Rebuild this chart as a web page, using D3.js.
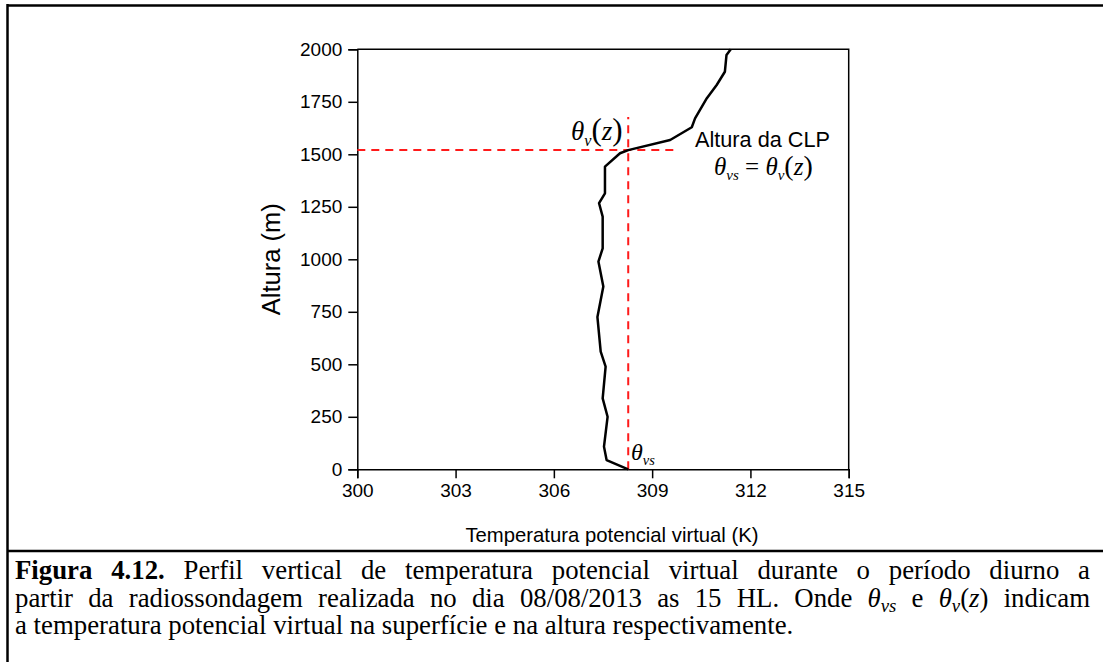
<!DOCTYPE html>
<html>
<head>
<meta charset="utf-8">
<script src="https://cdn.jsdelivr.net/npm/d3@7"></script>
<style>
  body { margin: 0; background: #fff; }
  svg { display: block; }
</style>
</head>
<body>
<div id="chart"></div>
<script>
// profile (temperature K, height m)
var theta = [308.27, 307.61, 307.53, 307.64, 307.49, 307.58, 307.43, 307.33, 307.51, 307.36,
             307.49, 307.49, 307.38, 307.56, 307.56, 308.02, 308.27, 309.55, 310.21, 310.31,
             310.67, 310.97, 311.22, 311.27, 311.40];
var height = [0, 44, 108, 250, 338, 489, 560, 725, 870, 989,
              1052, 1203, 1267, 1314, 1441, 1505, 1520, 1568, 1629, 1671,
              1767, 1830, 1893, 1973, 2000];
var xTicks = [300, 303, 306, 309, 312, 315];
var yTicks = [0, 250, 500, 750, 1000, 1250, 1500, 1750, 2000];
var thetaSurface = 308.27;   // theta_vs
var clpHeight = 1520;        // boundary layer top

var W = 1103, H = 662;
var sans = "'Liberation Sans', Arial, sans-serif";
var serif = "'Liberation Serif', 'Times New Roman', serif";

var svg = d3.select("#chart").append("svg")
    .attr("width", W)
    .attr("height", H);

// figure box
svg.append("line").attr("x1", 7).attr("x2", W).attr("y1", 5.5).attr("y2", 5.5)
    .attr("stroke", "#000").attr("stroke-width", 2.5);
svg.append("line").attr("x1", 7.5).attr("x2", 7.5).attr("y1", 4).attr("y2", H)
    .attr("stroke", "#000").attr("stroke-width", 2.5);
svg.append("line").attr("x1", 7).attr("x2", W).attr("y1", 551).attr("y2", 551)
    .attr("stroke", "#000").attr("stroke-width", 2.5);

var x = d3.scaleLinear().domain([300, 315]).range([357.3, 848.7]);
var y = d3.scaleLinear().domain([0, 2000]).range([469.3, 49.3]);

// frame (top + right)
svg.append("path")
    .attr("d", "M" + x(300) + "," + y(2000) + "H" + x(315) + "V" + y(0))
    .attr("fill", "none").attr("stroke", "#000").attr("stroke-width", 1.5);

var xAxis = svg.append("g")
    .attr("transform", "translate(0," + y(0) + ")")
    .call(d3.axisBottom(x).tickValues(xTicks).tickSize(9).tickPadding(5).tickFormat(d3.format("d")));
var yAxis = svg.append("g")
    .attr("transform", "translate(" + x(300) + ",0)")
    .call(d3.axisLeft(y).tickValues(yTicks).tickSize(9).tickPadding(6).tickFormat(d3.format("d")));

[xAxis, yAxis].forEach(function (g) {
    g.select(".domain").attr("stroke-width", 1.5);
    g.selectAll(".tick line").attr("stroke-width", 1.5);
    g.selectAll(".tick text")
        .style("font-family", sans)
        .style("font-size", "19px")
        .attr("fill", "#000");
});

// axis titles
svg.append("text")
    .attr("x", 612)
    .attr("y", 542)
    .attr("text-anchor", "middle")
    .style("font-family", sans)
    .style("font-size", "20.3px")
    .text("Temperatura potencial virtual (K)");

svg.append("text")
    .attr("transform", "translate(280," + (y(0) + y(2000)) / 2 + ") rotate(-90)")
    .attr("text-anchor", "middle")
    .style("font-family", sans)
    .style("font-size", "25.5px")
    .text("Altura (m)");

// red reference lines
svg.append("line")
    .attr("x1", x(300)).attr("x2", 677)
    .attr("y1", y(clpHeight)).attr("y2", y(clpHeight))
    .attr("stroke", "#ff1a1a").attr("stroke-width", 2)
    .attr("stroke-dasharray", "8,6");
svg.append("line")
    .attr("x1", x(thetaSurface)).attr("x2", x(thetaSurface))
    .attr("y1", y(0)).attr("y2", 117)
    .attr("stroke", "#ff1a1a").attr("stroke-width", 2)
    .attr("stroke-dasharray", "8,6");

// profile
var profile = theta.map(function (t, i) { return [t, height[i]]; });
var line = d3.line()
    .x(function (d) { return x(d[0]); })
    .y(function (d) { return y(d[1]); });
svg.append("path")
    .attr("d", line(profile))
    .attr("fill", "none")
    .attr("stroke", "#000")
    .attr("stroke-width", 2.5)
    .attr("stroke-linejoin", "round");

// annotations
function thetaLabel(px, py, size, sub, tail) {
    var t = svg.append("text")
        .attr("x", px).attr("y", py)
        .style("font-family", serif)
        .style("font-size", size + "px");
    t.append("tspan").style("font-style", "italic").text("\u03B8");
    t.append("tspan").style("font-style", "italic").style("font-size", (size * 0.6) + "px")
        .attr("dy", size * 0.22).text(sub);
    if (tail) {
        t.append("tspan").attr("dy", -size * 0.22).style("font-size", (size * 1.15) + "px").text("(");
        t.append("tspan").style("font-style", "italic").text("z");
        t.append("tspan").style("font-size", (size * 1.15) + "px").text(")");
    }
    return t;
}

thetaLabel(571, 140, 27, "v", true);
thetaLabel(631, 460, 24, "vs", false);

svg.append("text")
    .attr("x", 695).attr("y", 147)
    .style("font-family", sans)
    .style("font-size", "21.7px")
    .text("Altura da CLP");

var eq = svg.append("text")
    .attr("x", 714).attr("y", 175)
    .style("font-family", serif)
    .style("font-size", "25px");
eq.append("tspan").style("font-style", "italic").text("\u03B8");
eq.append("tspan").style("font-style", "italic").style("font-size", "15px").attr("dy", 5).text("vs");
eq.append("tspan").attr("dy", -5).text(" = ");
eq.append("tspan").style("font-style", "italic").text("\u03B8");
eq.append("tspan").style("font-style", "italic").style("font-size", "15px").attr("dy", 5).text("v");
eq.append("tspan").attr("dy", -5).style("font-size", "28px").text("(");
eq.append("tspan").style("font-style", "italic").text("z");
eq.append("tspan").style("font-size", "28px").text(")");

// caption, justified lines
var capLeft = 15, capRight = 1090, capSize = 26.8;
var capLines = [
    { words: [[["Figura", "b"]], [["4.12.", "b"]], [["Perfil"]], [["vertical"]], [["de"]], [["temperatura"]],
              [["potencial"]], [["virtual"]], [["durante"]], [["o"]], [["período"]], [["diurno"]], [["a"]]],
      justify: true, y: 579 },
    { words: [[["partir"]], [["da"]], [["radiossondagem"]], [["realizada"]], [["no"]], [["dia"]], [["08/08/2013"]],
              [["as"]], [["15"]], [["HL."]], [["Onde"]], [["\u03B8", "i"], ["vs", "s"]], [["e"]],
              [["\u03B8", "i"], ["v", "s"], ["(", ""], ["z", "i"], [")", ""]], [["indicam"]]],
      justify: true, y: 606.5 },
    { words: [[["a"]], [["temperatura"]], [["potencial"]], [["virtual"]], [["na"]], [["superfície"]], [["e"]],
              [["na"]], [["altura"]], [["respectivamente."]]],
      justify: false, y: 634 }
];

capLines.forEach(function (ln) {
    var nodes = ln.words.map(function (segs) {
        var t = svg.append("text")
            .attr("y", ln.y)
            .style("font-family", serif)
            .style("font-size", capSize + "px");
        var down = false;
        segs.forEach(function (s) {
            var sp = t.append("tspan").text(s[0]);
            if (s[1] === "b") sp.style("font-weight", "bold");
            if (s[1] === "i") sp.style("font-style", "italic");
            if (s[1] === "s") {
                sp.style("font-style", "italic").style("font-size", (capSize * 0.7) + "px").attr("dy", 5);
                down = true;
            } else if (down) {
                sp.attr("dy", -5);
                down = false;
            }
        });
        return t;
    });
    var widths = nodes.map(function (t) { return t.node().getComputedTextLength(); });
    var total = d3.sum(widths);
    var gap = ln.justify ? (capRight - capLeft - total) / (nodes.length - 1) : capSize * 0.25;
    var cx = capLeft;
    nodes.forEach(function (t, i) {
        t.attr("x", cx);
        cx += widths[i] + gap;
    });
});
</script>
</body>
</html>
